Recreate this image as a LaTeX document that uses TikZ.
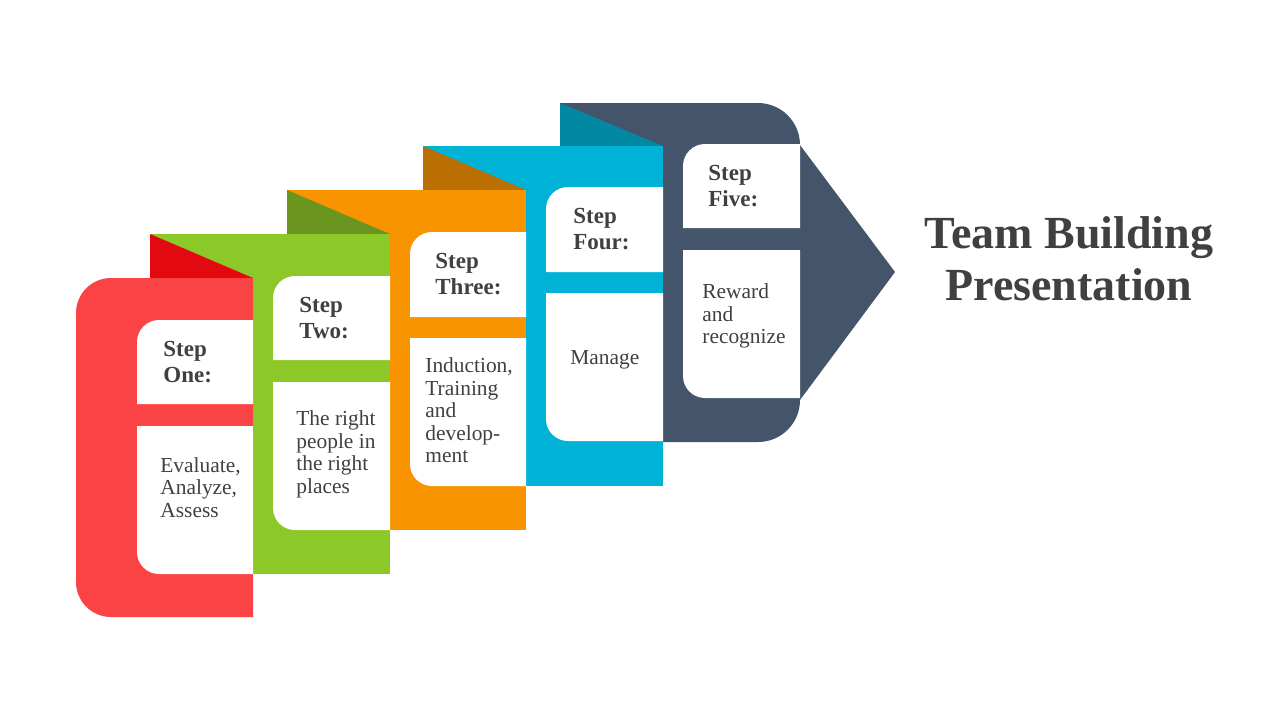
\documentclass[tikz,border=0pt]{standalone}
\usepackage{fontspec}
\setmainfont{Liberation Serif}
\usepackage{tikz}
\usepackage{xcolor}

% Colores de los pasos
\definecolor{rojoPaso}{HTML}{FA4345}
\definecolor{rojoPliegue}{HTML}{E20A10}
\definecolor{verdePaso}{HTML}{8CC928}
\definecolor{verdePliegue}{HTML}{6A9620}
\definecolor{naranjaPaso}{HTML}{F89400}
\definecolor{naranjaPliegue}{HTML}{B97000}
\definecolor{azulPaso}{HTML}{00B3D6}
\definecolor{azulPliegue}{HTML}{0388A3}
\definecolor{marinoPaso}{HTML}{44546A}
\definecolor{grisTexto}{HTML}{404040}

\begin{document}
\begin{tikzpicture}[
    x=0.5pt, y=-0.5pt,
    tarjeta/.style={fill=white},
    tituloPaso/.style={
        anchor=west, align=left, inner sep=0pt,
        text=grisTexto, font=\bfseries\fontsize{11.5}{13}\selectfont
    },
    textoPaso/.style={
        anchor=west, align=left, inner sep=0pt,
        text=grisTexto, font=\fontsize{10.7}{11.25}\selectfont
    },
    tituloPres/.style={
        align=center, inner sep=0pt,
        text=grisTexto, font=\bfseries\fontsize{23}{26}\selectfont
    }
]

% Fondo y margenes
\fill[white] (0,0) rectangle (1280,720);
\useasboundingbox (0,0) rectangle (1280,720);

% Paso cinco (flecha, al fondo)
\fill[marinoPaso] (560,103) -- (758,103) arc[start angle=-90, end angle=0, radius=42]
    -- (895,272) -- (800,400) arc[start angle=0, end angle=90, radius=42]
    -- (560,442) -- cycle;
\fill[azulPliegue] (560,103) -- (663,146) -- (560,146) -- cycle;

% Paso cuatro
\fill[azulPaso] (423,146) rectangle (663,486);
\fill[naranjaPliegue] (423,146) -- (526,190) -- (423,190) -- cycle;

% Paso tres
\fill[naranjaPaso] (287,190) rectangle (526,530);
\fill[verdePliegue] (287,190) -- (390,234) -- (287,234) -- cycle;

% Paso dos
\fill[verdePaso] (150,234) rectangle (390,574);
\fill[rojoPliegue] (150,234) -- (253,278) -- (150,278) -- cycle;

% Paso uno (esquinas redondeadas a la izquierda)
\fill[rojoPaso] (253,278) -- (111,278) arc[start angle=-90, end angle=-180, radius=35]
    -- (76,582) arc[start angle=180, end angle=90, radius=35]
    -- (253,617) -- cycle;

% Tarjetas blancas: cabecera y cuerpo de cada paso
\fill[tarjeta] (253,404) -- (137,404) -- (137,342) arc[start angle=180, end angle=270, radius=22] -- (253,320) -- cycle;
\fill[tarjeta] (253,426) -- (137,426) -- (137,552) arc[start angle=180, end angle=90, radius=22] -- (253,574) -- cycle;

\fill[tarjeta] (390,360) -- (273,360) -- (273,298) arc[start angle=180, end angle=270, radius=22] -- (390,276) -- cycle;
\fill[tarjeta] (390,382) -- (273,382) -- (273,508) arc[start angle=180, end angle=90, radius=22] -- (390,530) -- cycle;

\fill[tarjeta] (526,317) -- (410,317) -- (410,254) arc[start angle=180, end angle=270, radius=22] -- (526,232) -- cycle;
\fill[tarjeta] (526,338) -- (410,338) -- (410,464) arc[start angle=180, end angle=90, radius=22] -- (526,486) -- cycle;

\fill[tarjeta] (663,272) -- (546,272) -- (546,209) arc[start angle=180, end angle=270, radius=22] -- (663,187) -- cycle;
\fill[tarjeta] (663,293) -- (546,293) -- (546,419) arc[start angle=180, end angle=90, radius=22] -- (663,441) -- cycle;

\fill[tarjeta] (800,228) -- (683,228) -- (683,166) arc[start angle=180, end angle=270, radius=22] -- (800,144) -- cycle;
\fill[tarjeta] (800,250) -- (683,250) -- (683,376) arc[start angle=180, end angle=90, radius=22] -- (800,398) -- cycle;

% Textos de los pasos
\node[tituloPaso] (titUno) at (163,362) {Step\\One:};
\node[textoPaso] (txtUno) at (160,487.5) {Evaluate,\\Analyze,\\Assess};

\node[tituloPaso] (titDos) at (299,318) {Step\\Two:};
\node[textoPaso] (txtDos) at (296,454.5) {The right\\people in\\the right\\places};

\node[tituloPaso] (titTres) at (435,274.5) {Step\\Three:};
\node[textoPaso] (txtTres) at (425,410.5) {Induction,\\Training\\and\\develop-\\ment};

\node[tituloPaso] (titCuatro) at (573,229.5) {Step\\Four:};
\node[textoPaso] (txtCuatro) at (570,360) {Manage};

\node[tituloPaso] (titCinco) at (708,186) {Step\\Five:};
\node[textoPaso] (txtCinco) at (702,316) {Reward\\and\\recognize};

% Titulo de la presentacion
\node[tituloPres] (titulo) at (1069,259) {Team Building\\Presentation};

\end{tikzpicture}
\end{document}
